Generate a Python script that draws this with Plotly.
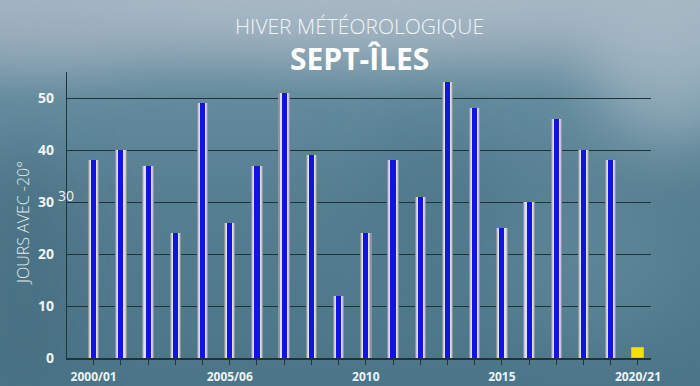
import base64
import plotly.graph_objects as go

# ---------------- data ----------------
seasons = [f"{y}/{str(y + 1)[-2:]}" for y in range(2000, 2021)]
days_below_m20 = [38, 40, 37, 24, 49, 26, 37, 51, 39, 12, 24, 38, 31, 53, 48, 25, 30, 46, 40, 38]
current_season = ["2020/21"]
current_value = [2]
label_positions = ["2000/01", "2005/06", "2010/11", "2015/16", "2020/21"]
label_texts = ["2000/01", "2005/06", "2010", "2015", "2020/21"]
y_ticks = [0, 10, 20, 30, 40, 50]

past = seasons[:-1]

# ---------------- background (foggy sky) ----------------
svg = """<svg xmlns="http://www.w3.org/2000/svg" width="700" height="386" viewBox="0 0 700 386">
<defs>
<linearGradient id="g" x1="0" y1="0" x2="0" y2="1">
<stop offset="0" stop-color="#9fb1bf"/>
<stop offset="0.10" stop-color="#8aa3b2"/>
<stop offset="0.25" stop-color="#638b9d"/>
<stop offset="0.5" stop-color="#567f91"/>
<stop offset="1" stop-color="#4b7688"/>
</linearGradient>
<filter id="b" x="-50%" y="-50%" width="200%" height="200%"><feGaussianBlur stdDeviation="30"/></filter>
</defs>
<rect width="700" height="386" fill="url(#g)"/>
<g filter="url(#b)">
<ellipse cx="360" cy="5" rx="280" ry="35" fill="#adbcc8" opacity="0.8"/>
<ellipse cx="670" cy="60" rx="80" ry="80" fill="#b2c1cd" opacity="0.6"/>
<ellipse cx="40" cy="20" rx="120" ry="40" fill="#a6b6c4" opacity="0.6"/>
<ellipse cx="25" cy="280" rx="55" ry="130" fill="#426a7c" opacity="0.55"/>
<ellipse cx="590" cy="260" rx="90" ry="80" fill="#5f899b" opacity="0.6"/>
<ellipse cx="430" cy="200" rx="70" ry="90" fill="#4a7486" opacity="0.4"/>
</g>
</svg>"""
bg_uri = "data:image/svg+xml;base64," + base64.b64encode(svg.encode()).decode()

fig = go.Figure()

# glossy bar halo layers + blue core
for w, col in [(0.42, "#8e939e"), (0.34, "#c4c7d6"), (0.27, "#dfe0ee"), (0.19, "#1212e2")]:
    fig.add_trace(go.Bar(x=past, y=days_below_m20, width=w, marker=dict(color=col, line=dict(width=0)),
                         hoverinfo="skip", showlegend=False))

fig.add_trace(go.Bar(x=current_season, y=current_value, width=0.45,
                     marker=dict(color="#f2e400", line=dict(color="#d8cc10", width=1)),
                     showlegend=False))

axis_col = "#22323b"
tick_text = [label_texts[label_positions.index(s)] if s in label_positions else "" for s in seasons]

fig.update_layout(
    width=700, height=386,
    margin=dict(l=0, r=0, t=0, b=0, autoexpand=False),
    paper_bgcolor="#55798a",
    plot_bgcolor="rgba(0,0,0,0)",
    barmode="overlay",
    bargap=0,
    images=[dict(source=bg_uri, xref="paper", yref="paper", x=0, y=1, sizex=1, sizey=1,
                 sizing="stretch", layer="below")],
    xaxis=dict(
        domain=[67 / 700, 651 / 700],
        automargin=False,
        type="category", categoryorder="array", categoryarray=seasons,
        range=[-0.98, 20.48],
        tickmode="array", tickvals=seasons, ticktext=tick_text,
        ticks="outside", ticklen=5, tickwidth=1, tickcolor=axis_col,
        showline=True, linecolor=axis_col, linewidth=1.5,
        showgrid=False, zeroline=False,
        tickfont=dict(family="Open Sans", size=12, color="#eef3f6", weight="bold"),
        ticklabelstandoff=2,
    ),
    yaxis=dict(
        domain=[28 / 386, 314 / 386],
        automargin=False,
        range=[0, 55],
        tickmode="array", tickvals=y_ticks,
        showgrid=True, gridcolor=axis_col, gridwidth=1.3,
        showline=True, linecolor=axis_col, linewidth=1.3,
        zeroline=False, ticks="",
        tickfont=dict(family="Open Sans", size=14, color="#eef3f6", weight="bold"),
        ticklabelstandoff=9,
    ),
    annotations=[
        dict(text="HIVER MÉTÉOROLOGIQUE", xref="paper", yref="paper", x=359 / 700, y=1 - 26 / 386,
             showarrow=False, xanchor="center", yanchor="middle",
             font=dict(family="Open Sans", size=21, color="#f2f5f8", weight=300)),
        dict(text="SEPT-ÎLES", xref="paper", yref="paper", x=360 / 700, y=1 - 59 / 386,
             showarrow=False, xanchor="center", yanchor="middle",
             font=dict(family="Open Sans", size=30, color="#ffffff", weight="bold")),
        dict(text="JOURS AVEC -20°", xref="paper", yref="paper", x=23 / 700, y=1 - 223 / 386,
             textangle=-90, showarrow=False, xanchor="center", yanchor="middle",
             font=dict(family="Open Sans", size=16, color="#e4ebf0", weight=300)),
        dict(text="30", xref="paper", yref="paper", x=66 / 700, y=1 - 195 / 386,
             showarrow=False, xanchor="center", yanchor="middle",
             font=dict(family="Open Sans", size=14, color="#eef3f6")),
    ],
)

fig.write_html("out.html", config={"displayModeBar": False},
               post_script="document.body.style.margin='0';document.body.style.overflow='hidden';")
